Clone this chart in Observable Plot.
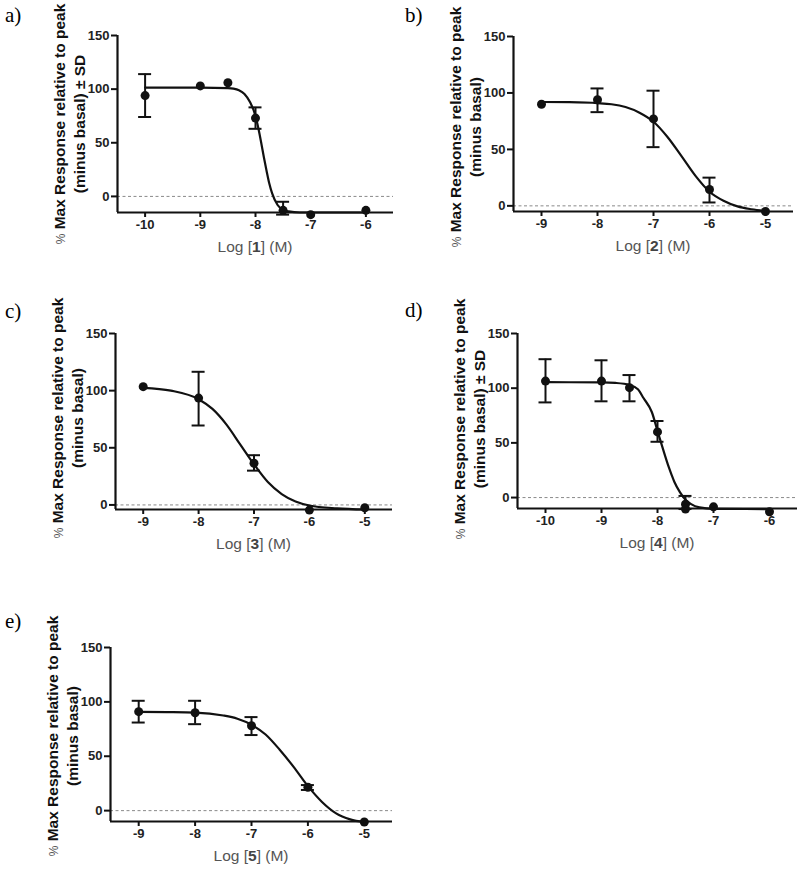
<!DOCTYPE html>
<html>
<head>
<meta charset="utf-8">
<script src="https://cdn.jsdelivr.net/npm/d3@7"></script>
<script src="https://cdn.jsdelivr.net/npm/@observablehq/plot@0.6"></script>
<style>
  html, body { margin: 0; padding: 0; background: #fff; }
  #root { position: relative; width: 800px; height: 873px; overflow: hidden; background: #fff; }
  .panel { position: absolute; }
</style>
</head>
<body>
<div id="root"></div>
<script>
// ---------- shared tick labels ----------
const yTicks = [0, 50, 100, 150];
const xTicks10 = [-10, -9, -8, -7, -6];
const xTicks9 = [-9, -8, -7, -6, -5];

// ---------- panel a) compound 1 ----------
const a_logM = [-10, -9, -8.5, -8, -7.5, -7, -6];
const a_mean = [94, 103, 106, 73, -13, -17, -13];
const a_sdLo = [74, null, null, 63, -17, null, null];
const a_sdHi = [114, null, null, 83, -5, null, null];
const a_fitX = [-10, -9, -8.5, -8.4, -8.3, -8.2, -8.1, -8.0, -7.95, -7.9, -7.85, -7.8, -7.75, -7.7, -7.6, -7.5, -7.4, -7.2, -7, -6];
const a_fitY = [101.5, 101.5, 101, 100.5, 99, 95.5, 88, 75, 64, 51, 37, 24, 12, 3, -8, -12.5, -14, -15, -15, -15];

// ---------- panel b) compound 2 ----------
const b_logM = [-9, -8, -7, -6, -5];
const b_mean = [90, 94, 77, 14.5, -5];
const b_sdLo = [null, 83, 52, 3, null];
const b_sdHi = [null, 104, 102, 25, null];
const b_fitX = [-9, -8.5, -8, -7.75, -7.5, -7.25, -7, -6.75, -6.5, -6.25, -6, -5.75, -5.5, -5.25, -5];
const b_fitY = [92, 91.8, 91, 90, 87.5, 82.5, 74.5, 61, 44, 26.5, 12.5, 4.5, -0.5, -3, -4.5];

// ---------- panel c) compound 3 ----------
const c_logM = [-9, -8, -7, -6, -5];
const c_mean = [103.5, 93.5, 36.5, -4.5, -2.5];
const c_sdLo = [null, 69.5, 30, null, null];
const c_sdHi = [null, 116.5, 43.5, null, null];
const c_fitX = [-9, -8.5, -8, -7.75, -7.5, -7.25, -7, -6.75, -6.5, -6.25, -6, -5.5, -5];
const c_fitY = [102.5, 100, 92.5, 84, 70.5, 53, 35.5, 20, 9.5, 3, -0.5, -3, -4];

// ---------- panel d) compound 4 ----------
const d_logM = [-10, -9, -8.5, -8, -7.5, -7.5, -7, -6];
const d_mean = [106.5, 106.5, 100.5, 60, -6, -10.5, -8.5, -13];
const d_sdLo = [87, 88, 88, 51, -10.5, null, null, null];
const d_sdHi = [126.5, 125.5, 112, 70, 1.5, null, null, null];
const d_fitX = [-10, -9, -8.75, -8.5, -8.35, -8.25, -8.1, -8, -7.9, -7.8, -7.75, -7.7, -7.6, -7.5, -7.4, -7.25, -7, -6];
const d_fitY = [105.5, 105.3, 104.8, 103, 99, 91, 78, 61, 44, 28, 21, 14.5, 5, -2, -6, -9, -10.3, -10.5];

// ---------- panel e) compound 5 ----------
const e_logM = [-9, -8, -7, -6, -5];
const e_mean = [91, 90, 78, 21.5, -10.5];
const e_sdLo = [81, 79.5, 69.5, 19, null];
const e_sdHi = [101, 101, 86, 23.5, null];
const e_fitX = [-9, -8.5, -8, -7.5, -7.25, -7, -6.75, -6.5, -6.25, -6, -5.75, -5.5, -5.25, -5];
const e_fitY = [90.8, 90.6, 90.2, 87.5, 84.5, 79, 70, 56, 40, 22.5, 8, -2.5, -8, -10.5];

// ---------- titles ----------
const yTitle1 = " Max Response relative to peak";
const yTitle2sd = "(minus basal) \u00B1 SD";
const yTitle2 = "(minus basal)";

const FONT = '"Liberation Sans", Arial, Helvetica, sans-serif';

const panels = [
  { letter: "a)", compound: "1", x: a_logM, y: a_mean, lo: a_sdLo, hi: a_sdHi, fx: a_fitX, fy: a_fitY, xTicks: xTicks10, line2: yTitle2sd,
    L: { left: 0, top: 0, w: 400, h: 290, mL: 117, mR: 7, mT: 35, mB: 78, xDom: [-10.5, -5.5], yDom: [-15, 150], letterY: 22, titleY: 124 } },
  { letter: "b)", compound: "2", x: b_logM, y: b_mean, lo: b_sdLo, hi: b_sdHi, fx: b_fitX, fy: b_fitY, xTicks: xTicks9, line2: yTitle2,
    L: { left: 400, top: 0, w: 400, h: 290, mL: 113, mR: 7, mT: 36, mB: 79, xDom: [-9.5, -4.5], yDom: [-5, 150], letterY: 22, titleY: 127 } },
  { letter: "c)", compound: "3", x: c_logM, y: c_mean, lo: c_sdLo, hi: c_sdHi, fx: c_fitX, fy: c_fitY, xTicks: xTicks9, line2: yTitle2,
    L: { left: 0, top: 290, w: 400, h: 290, mL: 115, mR: 8, mT: 43, mB: 71, xDom: [-9.5, -4.5], yDom: [-4, 150], letterY: 28, titleY: 128 } },
  { letter: "d)", compound: "4", x: d_logM, y: d_mean, lo: d_sdLo, hi: d_sdHi, fx: d_fitX, fy: d_fitY, xTicks: xTicks10, line2: yTitle2sd,
    L: { left: 400, top: 290, w: 400, h: 290, mL: 117, mR: 3, mT: 43, mB: 72, xDom: [-10.5, -5.5], yDom: [-10, 150], letterY: 27, titleY: 129 } },
  { letter: "e)", compound: "5", x: e_logM, y: e_mean, lo: e_sdLo, hi: e_sdHi, fx: e_fitX, fy: e_fitY, xTicks: xTicks9, line2: yTitle2,
    L: { left: 0, top: 580, w: 400, h: 293, mL: 110, mR: 8, mT: 67, mB: 52, xDom: [-9.5, -4.5], yDom: [-10, 150], letterY: 48, titleY: 156 } }
];

const root = document.getElementById("root");

function drawPanel(p) {
  const L = p.L;
  const pts = p.x.map((x, i) => ({ x, y: p.y[i], lo: p.lo[i], hi: p.hi[i] }));
  const bars = pts.filter(d => d.lo != null && d.hi != null);
  const fit = p.fx.map((x, i) => ({ x, y: p.fy[i] }));
  const capHalf = 6.5 * (L.xDom[1] - L.xDom[0]) / (L.w - L.mL - L.mR);
  const ink = "#111";

  const svg = Plot.plot({
    width: L.w, height: L.h,
    marginLeft: L.mL, marginRight: L.mR, marginTop: L.mT, marginBottom: L.mB,
    style: { fontFamily: FONT, background: "transparent", overflow: "visible" },
    x: { domain: L.xDom, label: null },
    y: { domain: L.yDom, label: null },
    marks: [
      Plot.ruleY([0], { x1: () => L.xDom[0], x2: () => L.xDom[1], stroke: "#8a8a8a", strokeWidth: 1, strokeDasharray: "3,2.5" }),
      Plot.line(fit, { x: "x", y: "y", curve: "monotone-x", stroke: ink, strokeWidth: 2.2 }),
      Plot.ruleX(bars, { x: "x", y1: "lo", y2: "hi", stroke: ink, strokeWidth: 2 }),
      Plot.ruleY(bars, { y: "lo", x1: d => d.x - capHalf, x2: d => d.x + capHalf, stroke: ink, strokeWidth: 2 }),
      Plot.ruleY(bars, { y: "hi", x1: d => d.x - capHalf, x2: d => d.x + capHalf, stroke: ink, strokeWidth: 2 }),
      Plot.dot(pts, { x: "x", y: "y", r: 4.5, fill: ink, stroke: null }),
      Plot.ruleX([L.xDom[0]], { y1: () => L.yDom[0], y2: () => L.yDom[1], stroke: ink, strokeWidth: 2.2 }),
      Plot.ruleY([L.yDom[0]], { x1: () => L.xDom[0], x2: () => L.xDom[1], stroke: ink, strokeWidth: 2.2 }),
      Plot.axisY({ ticks: yTicks, tickSize: 6, tickPadding: 2, strokeWidth: 2, stroke: ink, fill: "#222",
                   fontWeight: "bold", fontSize: 13, label: null, tickFormat: d => String(d) }),
      Plot.axisX({ ticks: p.xTicks, tickSize: 5, tickPadding: 2, strokeWidth: 2, stroke: ink, fill: "#222",
                   fontWeight: "bold", fontSize: 13, label: null, tickFormat: d => String(d) })
    ]
  });

  const s = d3.select(svg);
  const cy = L.titleY;

  // y-axis title, two lines
  const t1 = s.append("text")
    .attr("transform", `translate(${L.mL - 52},${cy}) rotate(-90)`)
    .attr("text-anchor", "middle")
    .attr("font-family", FONT)
    .attr("font-weight", "bold")
    .attr("font-size", 15.5)
    .attr("fill", ink);
  t1.append("tspan").attr("font-weight", "normal").attr("font-size", 12).attr("fill", "#555").text("%");
  t1.append("tspan").text(yTitle1);

  s.append("text")
    .attr("transform", `translate(${L.mL - 32},${cy}) rotate(-90)`)
    .attr("text-anchor", "middle")
    .attr("font-family", FONT)
    .attr("font-weight", "bold")
    .attr("font-size", 15.5)
    .attr("fill", ink)
    .text(p.line2);

  // x-axis title
  const xt = s.append("text")
    .attr("x", (L.mL + L.w - L.mR) / 2)
    .attr("y", L.h - L.mB + 40)
    .attr("text-anchor", "middle")
    .attr("font-family", FONT)
    .attr("font-size", 15.5)
    .attr("fill", "#555");
  xt.append("tspan").text("Log [");
  xt.append("tspan").attr("font-weight", "bold").attr("fill", "#444").text(p.compound);
  xt.append("tspan").text("] (M)");

  // panel letter
  s.append("text")
    .attr("x", 5)
    .attr("y", L.letterY)
    .attr("text-anchor", "start")
    .attr("font-family", '"Liberation Serif", "Times New Roman", serif')
    .attr("font-size", 21)
    .attr("fill", "#000")
    .text(p.letter);

  const div = document.createElement("div");
  div.className = "panel";
  div.style.left = L.left + "px";
  div.style.top = L.top + "px";
  div.style.width = L.w + "px";
  div.style.height = L.h + "px";
  div.appendChild(svg);
  root.appendChild(div);
}

panels.forEach(drawPanel);
</script>
</body>
</html>
